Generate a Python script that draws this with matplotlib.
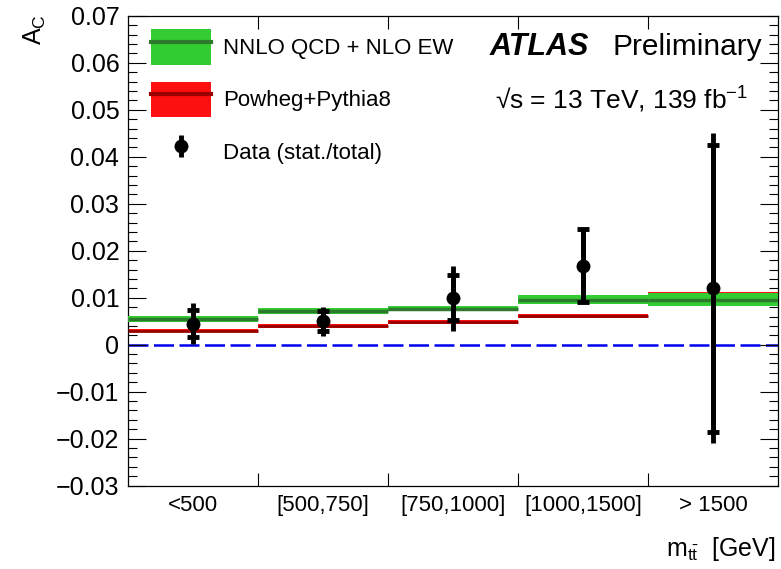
import numpy as np
import matplotlib
matplotlib.use("Agg")
import matplotlib.pyplot as plt
from matplotlib.patches import Patch
from matplotlib.lines import Line2D
from matplotlib.legend_handler import HandlerTuple

plt.rcParams['font.family'] = ['Liberation Sans', 'DejaVu Sans']
plt.rcParams['mathtext.fontset'] = 'custom'
plt.rcParams['mathtext.rm'] = 'Liberation Sans'
plt.rcParams['mathtext.it'] = 'Liberation Sans:italic'

# bins of m_tt
bin_labels = ['<500', '[500,750]', '[750,1000]', '[1000,1500]', '> 1500']

# NNLO QCD + NLO EW prediction
nnlo = [0.0055, 0.0072, 0.0077, 0.0096, 0.0096]
nnlo_err = [0.0006, 0.0006, 0.0006, 0.0009, 0.0014]

# Powheg+Pythia8 prediction
powheg = [0.0030, 0.0040, 0.0049, 0.0061, 0.0099]
powheg_err = [0.0004, 0.0004, 0.0004, 0.0004, 0.0013]

# data with stat and total uncertainties
data = [0.0044, 0.0050, 0.0099, 0.0167, 0.0120]
stat_up = [0.0030, 0.0022, 0.0049, 0.0079, 0.0305]
stat_dn = [0.0028, 0.0020, 0.0047, 0.0076, 0.0305]
tot_up = [0.0045, 0.0031, 0.0068, 0.0079, 0.0330]
tot_dn = [0.0043, 0.0031, 0.0069, 0.0076, 0.0329]

x = np.arange(len(bin_labels)) + 0.5

fig = plt.figure(figsize=(7.81, 5.69), dpi=100)
ax = fig.add_axes([0.1635, 0.1464, 0.8327, 0.826])

# zero line
ax.axhline(0, color='#0000ee', lw=1.8, dashes=(8, 2.2), zorder=1)

# Powheg band + central line
for xi, v, e in zip(x, powheg, powheg_err):
    ax.fill_between([xi - 0.5, xi + 0.5], v - e, v + e, color='#ff1010', lw=0, zorder=2)
    ax.hlines(v, xi - 0.5, xi + 0.5, color='#990000', lw=2, zorder=3)

# NNLO band + central line
for xi, v, e in zip(x, nnlo, nnlo_err):
    ax.fill_between([xi - 0.5, xi + 0.5], v - e, v + e, color='#33cc33', lw=0, zorder=4)
    ax.hlines(v, xi - 0.5, xi + 0.5, color='#2d7a2d', lw=2.5, zorder=5)

# data: total (no caps) then stat (with caps)
ax.errorbar(x, data, yerr=[tot_dn, tot_up], fmt='none', ecolor='black',
            elinewidth=3.5, capsize=0, zorder=6)
ax.errorbar(x, data, yerr=[stat_dn, stat_up], fmt='o', color='black',
            ms=9, elinewidth=3.5, capsize=4.5, capthick=3.5, zorder=7)

ax.set_xlim(0, 5)
ax.set_ylim(-0.03, 0.07)

# ticks
ax.set_xticks(np.arange(1, 5))
ax.set_xticklabels([])
ax.set_xticks(x, minor=True)
ax.set_xticklabels(bin_labels, minor=True, fontsize=16)
ax.tick_params(axis='x', which='major', direction='in', length=9.5, width=0.8,
               top=True, bottom=True)
ax.tick_params(axis='x', which='minor', length=0, pad=7)

ax.set_yticks(np.arange(-0.03, 0.0701, 0.01))
ax.set_yticklabels(['\u22120.03', '\u22120.02', '\u22120.01', '0', '0.01', '0.02',
                    '0.03', '0.04', '0.05', '0.06', '0.07'], fontsize=18)
ax.set_yticks(np.arange(-0.03, 0.0701, 0.002), minor=True)
ax.tick_params(axis='y', which='major', direction='in', length=13, width=0.8,
               left=True, right=True, pad=6)
ax.tick_params(axis='y', which='minor', direction='in', length=6.5, width=0.8,
               left=True, right=True)
for s in ax.spines.values():
    s.set_linewidth(0.9)

# axis titles
fig.text(0.045, 0.975, r'A$_\mathregular{C}$', rotation=90, ha='center', va='top', fontsize=18)
fig.text(0.993, 0.035, r'm$_{\mathregular{t\bar{t}}}$  [GeV]', ha='right', va='center', fontsize=18)

# labels
ax.text(0.557, 0.933, 'ATLAS', transform=ax.transAxes, fontsize=22,
        fontweight='bold', fontstyle='italic', va='center', ha='left')
ax.text(0.746, 0.933, 'Preliminary', transform=ax.transAxes, fontsize=21.5,
        va='center', ha='left')
ax.text(0.565, 0.82, '\u221as = 13 TeV, 139 fb$^{\\mathregular{-1}}$',
        transform=ax.transAxes, fontsize=19, va='center', ha='left')

# legend
h_nnlo = (Patch(fc='#33cc33', lw=0), Line2D([], [], color='#2d7a2d', lw=3))
h_pow = (Patch(fc='#ff1010', lw=0), Line2D([], [], color='#990000', lw=3))
h_data = ax.errorbar([np.nan], [np.nan], yerr=[np.nan], fmt='o', color='black',
                     ms=9, elinewidth=3.5, capsize=0)
ax.legend([h_nnlo, h_pow, h_data],
          ['NNLO QCD + NLO EW', 'Powheg+Pythia8', 'Data (stat./total)'],
          handler_map={tuple: HandlerTuple(ndivide=1, pad=0)},
          loc='upper left', bbox_to_anchor=(0.022, 0.99), frameon=False,
          fontsize=16, handlelength=2.7, handleheight=2.1, labelspacing=0.74,
          handletextpad=0.55, borderaxespad=0)

fig.savefig('out.png', dpi=100)
